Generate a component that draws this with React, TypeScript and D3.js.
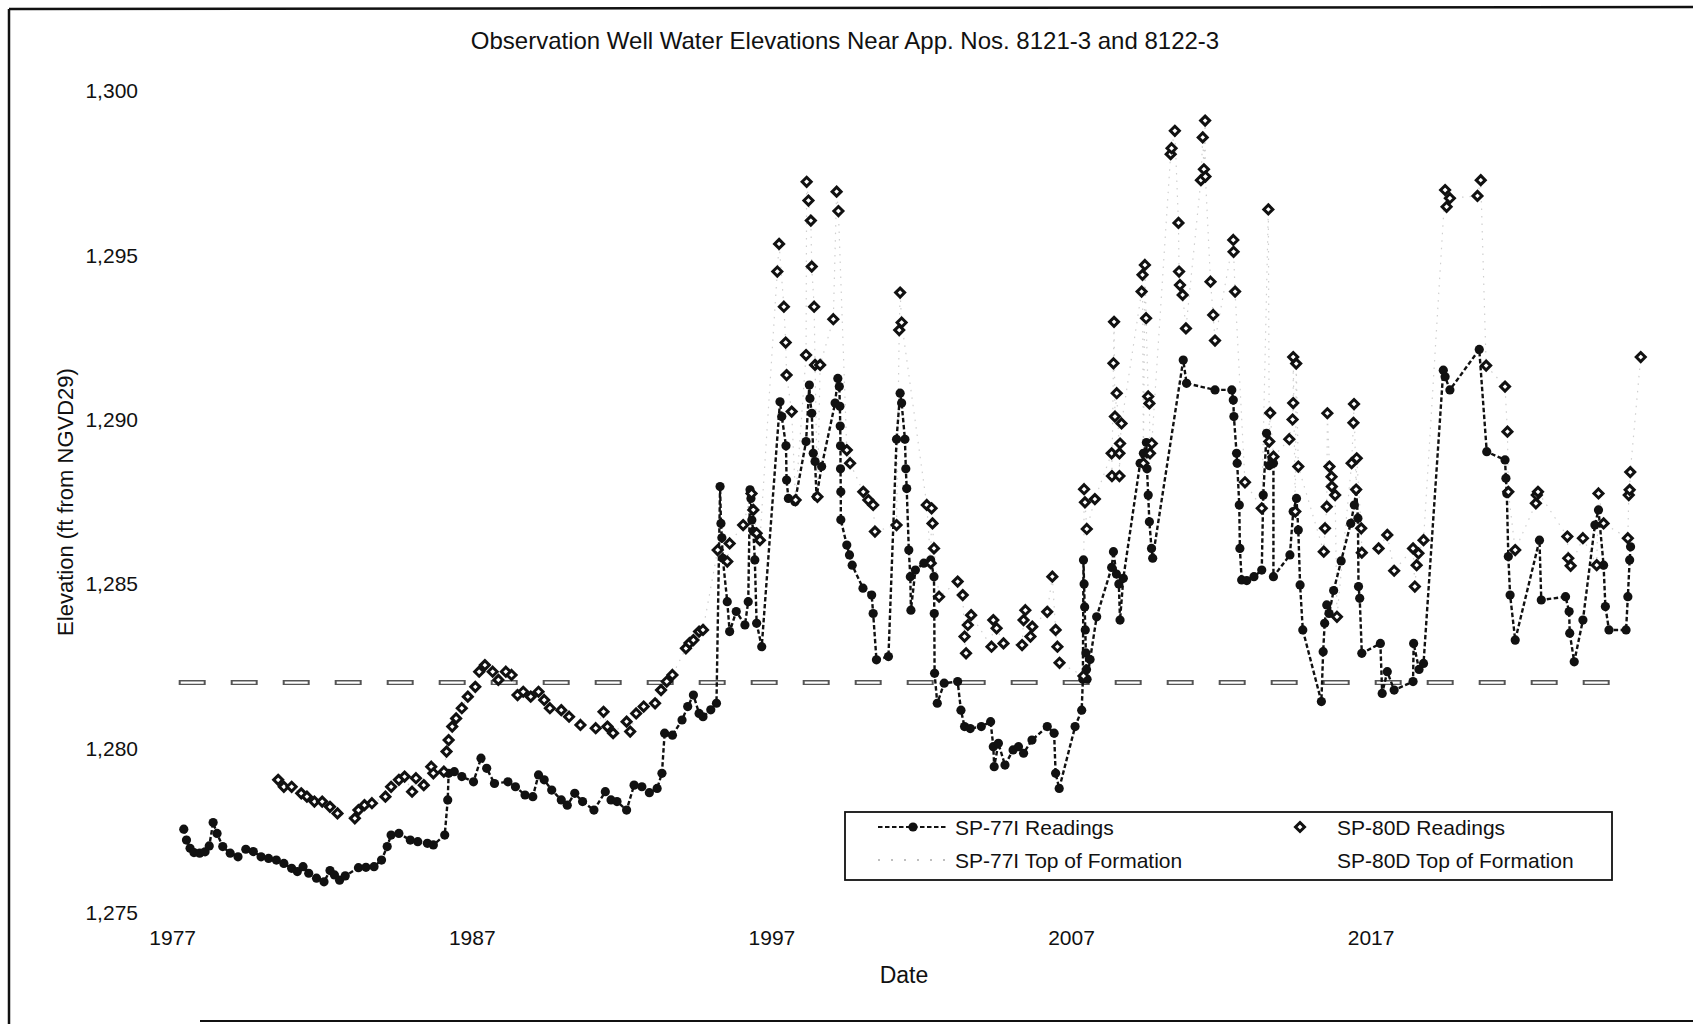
import * as d3 from "d3";

// SP-77I readings: [decimal year, elevation ft]
const sp77iReadings: [number, number][] = [
  [1977.37, 1277.54], [1977.46, 1277.21], [1977.58, 1276.96], [1977.71, 1276.83], [1977.9, 1276.81],
  [1978.08, 1276.85], [1978.22, 1277.03], [1978.35, 1277.74], [1978.48, 1277.41], [1978.67, 1277.01],
  [1978.92, 1276.81], [1979.18, 1276.7], [1979.44, 1276.93], [1979.69, 1276.86], [1979.95, 1276.7],
  [1980.2, 1276.65], [1980.46, 1276.6], [1980.71, 1276.5], [1980.97, 1276.35], [1981.16, 1276.25],
  [1981.35, 1276.4], [1981.54, 1276.2], [1981.8, 1276.05], [1982.05, 1275.94], [1982.25, 1276.28],
  [1982.4, 1276.15], [1982.57, 1275.99], [1982.76, 1276.12], [1983.2, 1276.37], [1983.45, 1276.38],
  [1983.72, 1276.4], [1983.97, 1276.6], [1984.16, 1277.01], [1984.29, 1277.36], [1984.55, 1277.41],
  [1984.93, 1277.21], [1985.18, 1277.16], [1985.5, 1277.11], [1985.7, 1277.06], [1986.08, 1277.36],
  [1986.18, 1278.43], [1986.21, 1279.24], [1986.4, 1279.29], [1986.65, 1279.14], [1987.04, 1278.98],
  [1987.29, 1279.7], [1987.48, 1279.39], [1987.74, 1278.93], [1988.19, 1278.98], [1988.44, 1278.83],
  [1988.76, 1278.58], [1989.02, 1278.53], [1989.21, 1279.19], [1989.4, 1279.04], [1989.65, 1278.73],
  [1989.97, 1278.43], [1990.17, 1278.27], [1990.42, 1278.63], [1990.68, 1278.38], [1991.06, 1278.12],
  [1991.44, 1278.68], [1991.63, 1278.43], [1991.83, 1278.38], [1992.15, 1278.12], [1992.4, 1278.88],
  [1992.66, 1278.83], [1992.91, 1278.65], [1993.17, 1278.78], [1993.33, 1279.24], [1993.42, 1280.46],
  [1993.68, 1280.4], [1994.0, 1280.86], [1994.19, 1281.27], [1994.38, 1281.62], [1994.57, 1281.06],
  [1994.7, 1280.96], [1994.96, 1281.17], [1995.15, 1281.37],
  [1995.27, 1287.96], [1995.3, 1286.84], [1995.33, 1286.4], [1995.36, 1285.78], [1995.51, 1284.46],
  [1995.59, 1283.55], [1995.81, 1284.16], [1996.1, 1283.75], [1996.21, 1284.46], [1996.27, 1287.86],
  [1996.3, 1287.6], [1996.33, 1286.94], [1996.38, 1286.6], [1996.43, 1285.73], [1996.49, 1283.8],
  [1996.66, 1283.09],
  [1997.27, 1290.54], [1997.33, 1290.09], [1997.47, 1289.2], [1997.49, 1288.16], [1997.55, 1287.6],
  [1997.77, 1287.5], [1998.14, 1289.33], [1998.25, 1291.05], [1998.27, 1290.64], [1998.33, 1290.19],
  [1998.38, 1288.97], [1998.44, 1288.72], [1998.49, 1287.65], [1998.66, 1288.57], [1999.11, 1290.5],
  [1999.2, 1291.25], [1999.25, 1291.0], [1999.27, 1290.4], [1999.28, 1289.8], [1999.29, 1289.2],
  [1999.29, 1288.5], [1999.3, 1287.8], [1999.3, 1286.95], [1999.5, 1286.18], [1999.59, 1285.88],
  [1999.68, 1285.57], [2000.04, 1284.87], [2000.33, 1284.66], [2000.38, 1284.1], [2000.49, 1282.69],
  [2000.89, 1282.79],
  [2001.16, 1289.4], [2001.28, 1290.8], [2001.33, 1290.5], [2001.44, 1289.4], [2001.47, 1288.5],
  [2001.5, 1287.9], [2001.57, 1286.03], [2001.62, 1285.22], [2001.64, 1284.2], [2001.79, 1285.42],
  [2002.07, 1285.63], [2002.3, 1285.73], [2002.41, 1285.22], [2002.42, 1284.1], [2002.43, 1282.28],
  [2002.52, 1281.37], [2002.75, 1281.98], [2003.2, 1282.03], [2003.31, 1281.16], [2003.43, 1280.66],
  [2003.62, 1280.6], [2003.99, 1280.66], [2004.3, 1280.81], [2004.39, 1280.05], [2004.42, 1279.44],
  [2004.56, 1280.15], [2004.78, 1279.49], [2005.05, 1279.95], [2005.23, 1280.05], [2005.4, 1279.85],
  [2005.68, 1280.25], [2006.19, 1280.66], [2006.42, 1280.46], [2006.47, 1279.24], [2006.59, 1278.78],
  [2007.12, 1280.66], [2007.34, 1281.16], [2007.38, 1282.1], [2007.4, 1285.73], [2007.42, 1285.0],
  [2007.44, 1284.3], [2007.46, 1283.6], [2007.48, 1282.9], [2007.5, 1282.4], [2007.52, 1282.1],
  [2007.62, 1282.7], [2007.84, 1284.0], [2008.34, 1285.5], [2008.4, 1285.98], [2008.5, 1285.3],
  [2008.58, 1285.0], [2008.62, 1283.9], [2008.73, 1285.17], [2009.29, 1288.67], [2009.4, 1288.97],
  [2009.5, 1289.3], [2009.52, 1288.5], [2009.56, 1287.7], [2009.6, 1286.89], [2009.67, 1286.08],
  [2009.71, 1285.78],
  [2010.73, 1291.81], [2010.84, 1291.1], [2011.79, 1290.9], [2012.35, 1290.9], [2012.4, 1290.59],
  [2012.42, 1290.09], [2012.51, 1288.97], [2012.53, 1288.67], [2012.6, 1287.4], [2012.62, 1286.08],
  [2012.68, 1285.12], [2012.85, 1285.1], [2013.09, 1285.22], [2013.35, 1285.42], [2013.4, 1287.7],
  [2013.51, 1289.58], [2013.6, 1288.6], [2013.74, 1288.67], [2013.74, 1285.22], [2014.29, 1285.88],
  [2014.4, 1287.2], [2014.51, 1287.6], [2014.57, 1286.64], [2014.63, 1284.97], [2014.72, 1283.6],
  [2015.34, 1281.42], [2015.4, 1282.94], [2015.45, 1283.8], [2015.52, 1284.36], [2015.6, 1284.1],
  [2015.75, 1284.8], [2016.0, 1285.7], [2016.32, 1286.84], [2016.44, 1287.4], [2016.5, 1287.86],
  [2016.56, 1287.0], [2016.58, 1284.92], [2016.62, 1284.56], [2016.69, 1282.89], [2017.31, 1283.19],
  [2017.37, 1281.67], [2017.54, 1282.33], [2017.77, 1281.77], [2018.4, 1282.03], [2018.42, 1283.19],
  [2018.6, 1282.4], [2018.75, 1282.58],
  [2019.41, 1291.5], [2019.47, 1291.3], [2019.63, 1290.9], [2020.61, 1292.13], [2020.86, 1289.02],
  [2021.47, 1288.77], [2021.5, 1288.21], [2021.53, 1287.75], [2021.58, 1285.83], [2021.64, 1284.66],
  [2021.81, 1283.29], [2022.62, 1286.33], [2022.68, 1284.51], [2023.49, 1284.61], [2023.61, 1284.16],
  [2023.63, 1283.5], [2023.78, 1282.63], [2024.07, 1283.9], [2024.47, 1286.79], [2024.59, 1287.25],
  [2024.76, 1285.57], [2024.82, 1284.31], [2024.94, 1283.6], [2025.51, 1283.6], [2025.57, 1284.61],
  [2025.63, 1285.73], [2025.66, 1286.13],
];

// SP-80D readings: [decimal year, elevation ft]
const sp80dReadings: [number, number][] = [
  [1980.52, 1279.04], [1980.71, 1278.83], [1980.97, 1278.83], [1981.29, 1278.63], [1981.48, 1278.53],
  [1981.73, 1278.38], [1981.99, 1278.38], [1982.25, 1278.22], [1982.5, 1278.02], [1983.08, 1277.87],
  [1983.2, 1278.12], [1983.4, 1278.27], [1983.65, 1278.33], [1984.1, 1278.53], [1984.29, 1278.83],
  [1984.55, 1279.04], [1984.74, 1279.14], [1984.99, 1278.68], [1985.12, 1279.09], [1985.38, 1278.88],
  [1985.63, 1279.44], [1985.7, 1279.24], [1986.05, 1279.29], [1986.14, 1279.9], [1986.21, 1280.25],
  [1986.33, 1280.66], [1986.46, 1280.91], [1986.65, 1281.22], [1986.85, 1281.57], [1987.1, 1281.87],
  [1987.23, 1282.33], [1987.42, 1282.53], [1987.68, 1282.33], [1987.87, 1282.08], [1988.12, 1282.33],
  [1988.31, 1282.23], [1988.51, 1281.62], [1988.7, 1281.72], [1988.95, 1281.57], [1989.21, 1281.72],
  [1989.4, 1281.47], [1989.59, 1281.22], [1989.97, 1281.16], [1990.23, 1280.96], [1990.61, 1280.71],
  [1991.12, 1280.61], [1991.38, 1281.11], [1991.51, 1280.66], [1991.7, 1280.46], [1992.15, 1280.81],
  [1992.27, 1280.51], [1992.47, 1281.06], [1992.72, 1281.27], [1993.1, 1281.37], [1993.3, 1281.77],
  [1993.49, 1282.03], [1993.68, 1282.23], [1994.13, 1283.04], [1994.25, 1283.2], [1994.38, 1283.29],
  [1994.57, 1283.55], [1994.7, 1283.6],
  [1995.19, 1286.03], [1995.51, 1285.68], [1995.59, 1286.23], [1996.04, 1286.79], [1996.32, 1287.75],
  [1996.38, 1287.25], [1996.49, 1286.54], [1996.6, 1286.33],
  [1997.18, 1294.5], [1997.24, 1295.34], [1997.4, 1293.43], [1997.46, 1292.34], [1997.49, 1291.35],
  [1997.66, 1290.24], [1997.79, 1287.55],
  [1998.14, 1291.96], [1998.16, 1297.23], [1998.22, 1296.66], [1998.3, 1296.05], [1998.33, 1294.65],
  [1998.41, 1293.43], [1998.44, 1291.66], [1998.52, 1287.65], [1998.61, 1291.66],
  [1999.05, 1293.05], [1999.16, 1296.93], [1999.22, 1296.34], [1999.5, 1289.07], [1999.61, 1288.67],
  [2000.05, 1287.8], [2000.22, 1287.55], [2000.38, 1287.4], [2000.44, 1286.59],
  [2001.16, 1286.79], [2001.25, 1292.72], [2001.28, 1293.86], [2001.33, 1292.95],
  [2002.17, 1287.4], [2002.3, 1285.63], [2002.33, 1287.3], [2002.36, 1286.84], [2002.41, 1286.08],
  [2002.58, 1284.61],
  [2003.2, 1285.07], [2003.37, 1284.66], [2003.43, 1283.4], [2003.48, 1282.89], [2003.54, 1283.75],
  [2003.65, 1284.05],
  [2004.33, 1283.09], [2004.39, 1283.9], [2004.5, 1283.65], [2004.73, 1283.19],
  [2005.35, 1283.14], [2005.4, 1283.9], [2005.46, 1284.2], [2005.63, 1283.4], [2005.69, 1283.7],
  [2006.19, 1284.15], [2006.36, 1285.22], [2006.47, 1283.6], [2006.53, 1283.09], [2006.6, 1282.6],
  [2007.4, 1282.2], [2007.42, 1287.88], [2007.45, 1287.48], [2007.51, 1286.67], [2007.78, 1287.58],
  [2008.34, 1288.97], [2008.35, 1288.28], [2008.4, 1291.71], [2008.42, 1292.97], [2008.45, 1290.09],
  [2008.51, 1290.8], [2008.6, 1288.97], [2008.6, 1288.28], [2008.62, 1289.27], [2008.67, 1289.88],
  [2009.34, 1293.89], [2009.37, 1294.4], [2009.4, 1288.67], [2009.45, 1294.7], [2009.49, 1293.08],
  [2009.56, 1290.7], [2009.6, 1290.49], [2009.62, 1288.97], [2009.68, 1289.27],
  [2010.31, 1298.07], [2010.34, 1298.25], [2010.45, 1298.78], [2010.57, 1295.98], [2010.59, 1294.5],
  [2010.62, 1294.09], [2010.71, 1293.79], [2010.82, 1292.77],
  [2011.32, 1297.28], [2011.38, 1298.58], [2011.42, 1297.61], [2011.46, 1299.09], [2011.47, 1297.39],
  [2011.64, 1294.19], [2011.73, 1293.18], [2011.79, 1292.4],
  [2012.4, 1295.46], [2012.41, 1295.1], [2012.46, 1293.89], [2012.79, 1288.09],
  [2013.35, 1287.3], [2013.57, 1296.39], [2013.6, 1289.33], [2013.63, 1290.2], [2013.74, 1288.87],
  [2014.27, 1289.4], [2014.38, 1290.0], [2014.4, 1290.5], [2014.4, 1291.9], [2014.47, 1287.2],
  [2014.5, 1291.7], [2014.57, 1288.57],
  [2015.42, 1285.98], [2015.46, 1286.69], [2015.52, 1287.35], [2015.54, 1290.19], [2015.61, 1288.57],
  [2015.68, 1288.26], [2015.69, 1287.96], [2015.8, 1287.7], [2015.86, 1284.0],
  [2016.35, 1288.67], [2016.41, 1289.9], [2016.43, 1290.47], [2016.5, 1287.87], [2016.52, 1288.82],
  [2016.67, 1286.69], [2016.69, 1285.95],
  [2017.25, 1286.08], [2017.54, 1286.49], [2017.77, 1285.4],
  [2018.4, 1286.08], [2018.46, 1284.92], [2018.52, 1285.57], [2018.58, 1285.93], [2018.75, 1286.33],
  [2019.47, 1296.98], [2019.52, 1296.47], [2019.63, 1296.73],
  [2020.55, 1296.8], [2020.66, 1297.28], [2020.84, 1291.64],
  [2021.47, 1291.0], [2021.55, 1289.63], [2021.58, 1287.8], [2021.81, 1286.03],
  [2022.5, 1287.45], [2022.53, 1287.7], [2022.57, 1287.8],
  [2023.55, 1286.44], [2023.58, 1285.78], [2023.66, 1285.55],
  [2024.07, 1286.39], [2024.53, 1285.57], [2024.59, 1287.75], [2024.76, 1286.84],
  [2025.57, 1286.39], [2025.6, 1287.7], [2025.63, 1287.86], [2025.65, 1288.4], [2026.0, 1291.9],
];

// top of formation, both wells
const sp77iTopOfFormation: [number, number][] = [[1977.2, 1282], [2025.2, 1282]];
const sp80dTopOfFormation: [number, number][] = [[1977.2, 1282], [2025.2, 1282]];

const yearTicks = [1977, 1987, 1997, 2007, 2017];
const elevationTicks = [1275, 1280, 1285, 1290, 1295, 1300];

const W = 1693;
const H = 1024;
const FONT = "'Liberation Sans', Arial, sans-serif";
const INK = "#111";

const x = d3.scaleLinear().domain([1977, 2027]).range([172.7, 1670.7]);
const y = d3.scaleLinear().domain([1275, 1300]).range([912.7, 90.7]);

const line = d3
  .line<[number, number]>()
  .x((d) => x(d[0]))
  .y((d) => y(d[1]));

const diamond = (r: number) => `M0,${-r}L${r},0L0,${r}L${-r},0Z`;

export default function App() {
  return (
    <svg
      width={W}
      height={H}
      style={{ position: "absolute", left: 0, top: 0, background: "#fff", display: "block" }}
      fontFamily={FONT}
    >
      <rect width={W} height={H} fill="#fff" />

      {/* scanned page frame */}
      <line x1={9} y1={9} x2={W} y2={7} stroke={INK} strokeWidth={2.5} />
      <line x1={9} y1={9} x2={9} y2={H} stroke={INK} strokeWidth={2.5} />
      <line x1={200} y1={1021} x2={W} y2={1021} stroke={INK} strokeWidth={2} />

      <text x={845} y={49} textAnchor="middle" fontSize={24} fill={INK}>
        Observation Well Water Elevations Near App. Nos. 8121-3 and 8122-3
      </text>

      {/* y axis labels */}
      {elevationTicks.map((t) => (
        <text key={t} x={138} y={y(t)} textAnchor="end" dominantBaseline="central" fontSize={21} fill={INK}>
          {d3.format(",")(t)}
        </text>
      ))}
      <text
        transform={`translate(65,502) rotate(-90)`}
        textAnchor="middle"
        dominantBaseline="central"
        fontSize={22}
        fill={INK}
      >
        Elevation (ft from NGVD29)
      </text>

      {/* x axis labels */}
      {yearTicks.map((t) => (
        <text key={t} x={x(t)} y={945} textAnchor="middle" fontSize={21} fill={INK}>
          {t}
        </text>
      ))}
      <text x={904} y={983} textAnchor="middle" fontSize={23} fill={INK}>
        Date
      </text>

      {/* top of formation */}
      <path d={line(sp77iTopOfFormation) ?? ""} fill="none" stroke="#555" strokeWidth={5} strokeDasharray="27 25" />
      <path
        d={line(sp80dTopOfFormation) ?? ""}
        fill="none"
        stroke="#fff"
        strokeWidth={2.2}
        strokeDasharray="23 29"
        strokeDashoffset={-2}
      />

      {/* SP-80D faint connector */}
      <path d={line(sp80dReadings) ?? ""} fill="none" stroke="#cfcfcf" strokeWidth={1.2} strokeDasharray="1.5 6" />

      {/* SP-77I */}
      <path d={line(sp77iReadings) ?? ""} fill="none" stroke={INK} strokeWidth={2.4} strokeDasharray="4.5 2.5" />
      {sp77iReadings.map((d, i) => (
        <circle key={i} cx={x(d[0])} cy={y(d[1])} r={4.6} fill={INK} />
      ))}

      {/* SP-80D */}
      {sp80dReadings.map((d, i) => (
        <path
          key={i}
          d={diamond(4.5)}
          transform={`translate(${x(d[0])},${y(d[1])})`}
          fill="#fff"
          stroke={INK}
          strokeWidth={3}
        />
      ))}

      {/* legend */}
      <g>
        <rect x={845} y={812} width={767} height={68} fill="#fff" stroke={INK} strokeWidth={1.8} />
        <line x1={878} y1={827} x2={948} y2={827} stroke={INK} strokeWidth={2.2} strokeDasharray="4.5 2.5" />
        <circle cx={913} cy={827} r={4.6} fill={INK} />
        <text x={955} y={827} dominantBaseline="central" fontSize={21} fill={INK}>
          SP-77I Readings
        </text>
        <line x1={878} y1={860} x2={950} y2={860} stroke="#aaa" strokeWidth={1.5} strokeDasharray="2 11" />
        <text x={955} y={860} dominantBaseline="central" fontSize={21} fill={INK}>
          SP-77I Top of Formation
        </text>
        <path d={diamond(4.5)} transform="translate(1300,827)" fill="#fff" stroke={INK} strokeWidth={3} />
        <text x={1337} y={827} dominantBaseline="central" fontSize={21} fill={INK}>
          SP-80D Readings
        </text>
        <line x1={1262} y1={860} x2={1330} y2={860} stroke="#fff" strokeWidth={2} />
        <text x={1337} y={860} dominantBaseline="central" fontSize={21} fill={INK}>
          SP-80D Top of Formation
        </text>
      </g>
    </svg>
  );
}
